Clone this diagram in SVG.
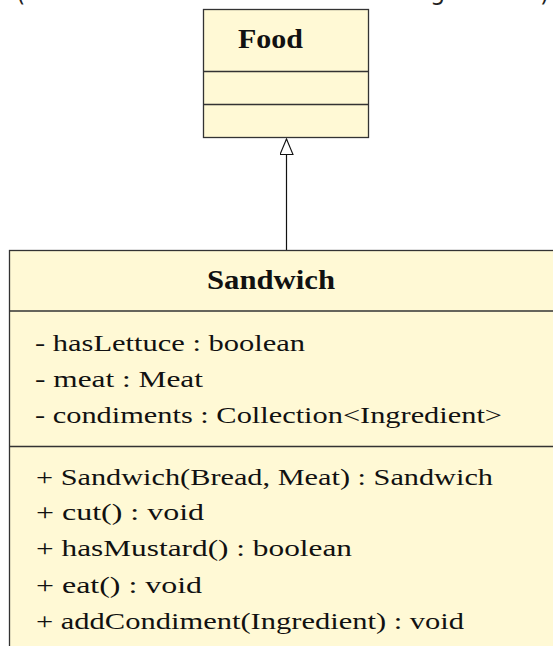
<svg xmlns="http://www.w3.org/2000/svg" width="553" height="646" viewBox="0 0 553 646">
  <style>
    .box { fill: #fff9d5; stroke: #333; stroke-width: 1.3; }
    .sep { stroke: #333; stroke-width: 1.3; }
    .title { font-family: "Liberation Serif", serif; font-weight: bold; font-size: 28px; fill: #111; text-anchor: middle; }
    .member { font-family: "Liberation Serif", serif; font-size: 24px; fill: #111; }
    .caption { font-family: "DejaVu Sans", sans-serif; font-size: 24px; fill: #222; }
    .edge { fill: none; stroke: #111; stroke-width: 1.2; }
  </style>
  <defs>
    <!-- hollow triangle for generalization -->
    <marker id="inherit" markerUnits="userSpaceOnUse" markerWidth="18" markerHeight="16" refX="16" refY="7" orient="auto">
      <path d="M0.5,0.5 L16,7 L0.5,13.5 Z" fill="#fff" stroke="#111" stroke-width="1.1"/>
    </marker>
  </defs>

  <!-- caption line running above the frame -->
  <g id="caption">
    <text class="caption" x="16" y="1">(</text>
    <text class="caption" x="430" y="0">g</text>
    <text class="caption" x="540" y="1">)</text>
  </g>

  <g id="connectors">
    <path class="edge" d="M286.5,250 L286.5,139" marker-end="url(#inherit)"/>
  </g>

  <g id="food">
    <rect class="box" x="203.5" y="9.5" width="165" height="128"/>
    <line class="sep" x1="203.5" y1="71.5" x2="368.5" y2="71.5"/>
    <line class="sep" x1="203.5" y1="104.5" x2="368.5" y2="104.5"/>
    <text class="title" x="270.5" y="47.5" textLength="65" lengthAdjust="spacingAndGlyphs">Food</text>
  </g>

  <g id="sandwich">
    <rect class="box" x="9.5" y="250.5" width="600" height="420"/>
    <line class="sep" x1="9.5" y1="311" x2="560" y2="311"/>
    <line class="sep" x1="9.5" y1="446.5" x2="560" y2="446.5"/>
    <text class="title" x="271" y="289" textLength="128" lengthAdjust="spacingAndGlyphs">Sandwich</text>
    <text class="member" x="35" y="350.5" textLength="270" lengthAdjust="spacingAndGlyphs">- hasLettuce : boolean</text>
    <text class="member" x="35" y="386.5" textLength="168" lengthAdjust="spacingAndGlyphs">- meat : Meat</text>
    <text class="member" x="35" y="422.5" textLength="467" lengthAdjust="spacingAndGlyphs">- condiments : Collection&lt;Ingredient&gt;</text>
    <text class="member" x="36" y="484.5" textLength="457" lengthAdjust="spacingAndGlyphs">+ Sandwich(Bread, Meat) : Sandwich</text>
    <text class="member" x="36" y="520" textLength="168" lengthAdjust="spacingAndGlyphs">+ cut() : void</text>
    <text class="member" x="36" y="556" textLength="316" lengthAdjust="spacingAndGlyphs">+ hasMustard() : boolean</text>
    <text class="member" x="36" y="593" textLength="166" lengthAdjust="spacingAndGlyphs">+ eat() : void</text>
    <text class="member" x="36" y="629" textLength="428" lengthAdjust="spacingAndGlyphs">+ addCondiment(Ingredient) : void</text>
  </g>
</svg>
